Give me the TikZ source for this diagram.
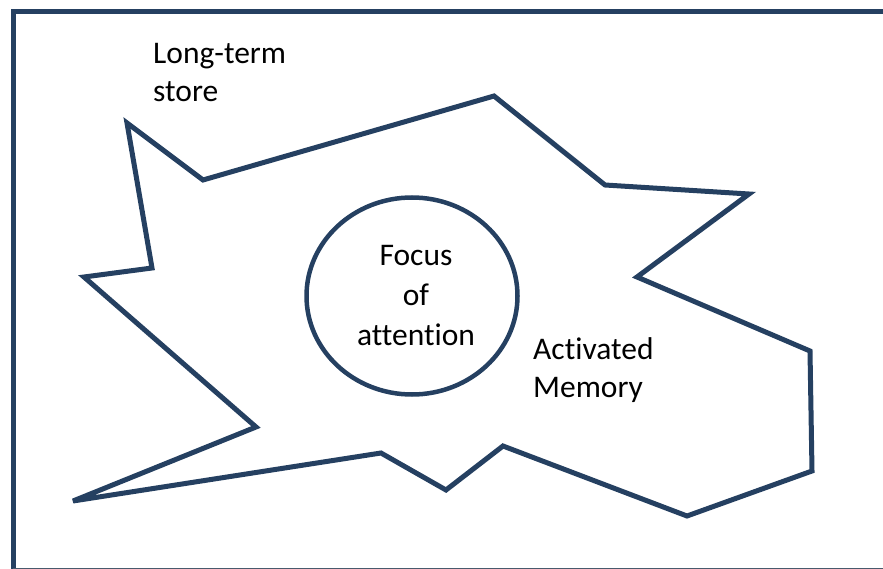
\documentclass[tikz,border=0pt]{standalone}
\usepackage{fontspec}
\setmainfont{Carlito}[Ligatures=NoCommon]
\usepackage{tikz}
\usetikzlibrary{shapes.geometric}
\definecolor{memblue}{RGB}{37,64,97}

\begin{document}
\begin{tikzpicture}[x=1pt,y=-1pt]
\tikzstyle{Outline}=[draw=memblue, line width=5pt, line join=miter, miter limit=4];
\tikzstyle{Label}=[inner sep=0pt, align=left, anchor=base west, font=\fontsize{31.5}{38}\selectfont];
\useasboundingbox (0,0) rectangle (883,569);
% frame
\draw [memblue, line width=5pt] (13,569) -- (13,11.5) -- (883,11.5);
\draw [memblue!60!gray, line width=1pt] (13,568.5) -- (883,568.5);
% activated memory region
\draw [Outline] (127,123) -- (203,180) -- (494,96) -- (605,185) -- (749,194)
  -- (637,277) -- (810,351) -- (812,471) -- (687,516) -- (503,446)
  -- (446,490) -- (381,453) -- (73,501) -- (256,427) -- (84,277)
  -- (152,268) -- cycle;
\node [Outline, ellipse, line width=4.5pt, minimum width=211, minimum height=197,
  inner sep=0pt, align=center, font=\fontsize{31.5}{40}\selectfont] (focus) at (412,296)
  {\hspace*{8pt}Focus\\\hspace*{8pt}of\\\hspace*{8pt}attention};
\node [Label] (lts) at (153,102) {Long-term\\store};
\node [Label] (actmem) at (533,397) {Activated\\Memory};
\end{tikzpicture}
\end{document}
